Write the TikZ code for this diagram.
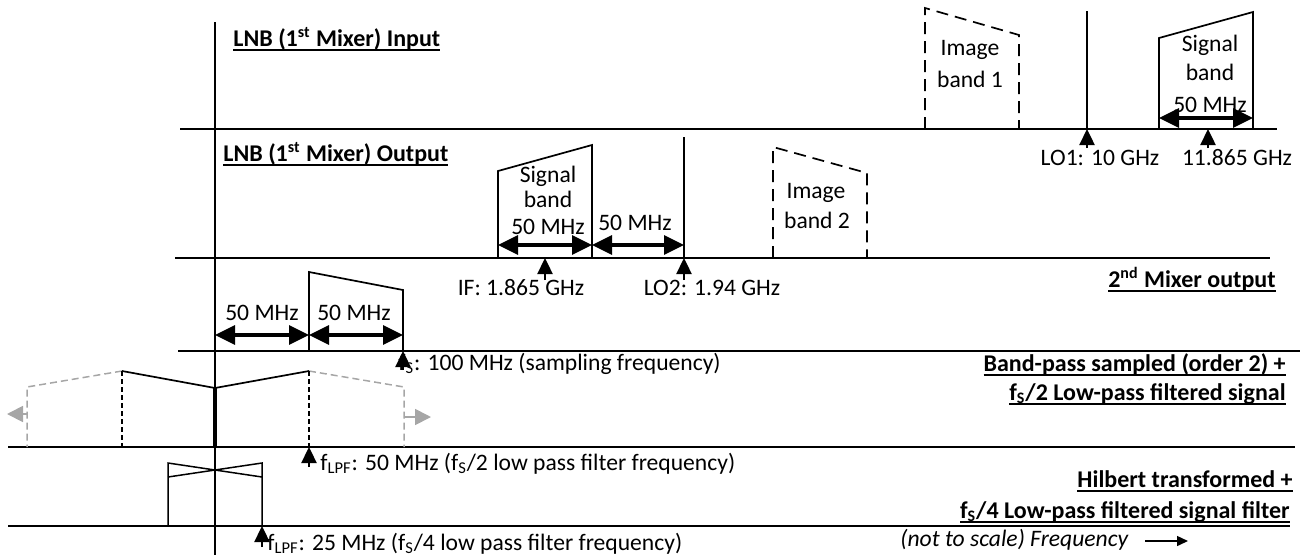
\documentclass[tikz,border=0pt]{standalone}
\usepackage{fontspec}
\setmainfont{Carlito}
\usetikzlibrary{arrows.meta}
\definecolor{gry}{RGB}{166,166,166}
\newcommand{\ulx}[1]{\setbox0\hbox{#1}\leavevmode\rlap{\rule[-2.6pt]{\wd0}{1.2pt}}\box0}
\tikzset{
 axisline/.style={line width=1pt},
 band/.style={line width=0.85pt, line join=miter},
 imgband/.style={line width=0.85pt, dash pattern=on 6pt off 3.5pt},
 loline/.style={line width=0.75pt},
 dbl/.style={line width=1.6pt, {Triangle[length=10pt,width=9.5pt]}-{Triangle[length=10pt,width=9.5pt]}},
 uparr/.style={line width=1.2pt, -{Triangle[length=8pt,width=7.5pt]}},
 txt/.style={inner sep=0pt, font=\fontsize{11.8}{14}\selectfont},
 ttl/.style={inner sep=0pt, font=\fontsize{12}{14}\selectfont\bfseries},
 gdash/.style={gry, line width=0.75pt, dash pattern=on 3.5pt off 2pt},
 kdash/.style={line width=0.7pt, dash pattern=on 2.5pt off 1.5pt},
 garr/.style={gry, line width=0.9pt, -{Triangle[length=8pt,width=8pt]}},
 farr/.style={line width=0.7pt, -{Triangle[length=5.5pt,width=5pt]}},
}
\begin{document}
\begin{tikzpicture}[x=0.5pt,y=-0.5pt]
\useasboundingbox (0,0) rectangle (1306,558);
% axis and baselines
\draw[axisline] (215,22) -- (215,555);
\draw[axisline] (180,129) -- (1277,129);
\draw[axisline] (175,258) -- (1270,258);
\draw[axisline] (178,351) -- (1300,351);
\draw[axisline] (8,447) -- (1295,447);
\draw[axisline] (8,526) -- (1290,526);

% ---- Section 1: LNB input
\node[ttl, anchor=base west] (t1) at (233,46) {\ulx{LNB (1\textsuperscript{st} Mixer) Input}};
\draw[imgband] (925,129) -- (925,8) -- (1019,35) -- (1019,129);
\draw[loline] (1087,11) -- (1087,129);
\draw[band] (1159,129) -- (1159,38) -- (1253,12) -- (1253,129);
\coordinate (sb1l) at (1159,118);
\coordinate (sb1r) at (1253,118);
\draw[dbl] (sb1l) -- (sb1r);
\node[txt, anchor=base] (ib1a) at (970,55) {Image};
\node[txt, anchor=base] (ib1b) at (970,87) {band 1};
\node[txt, anchor=base] (sg1a) at (1210,51) {Signal};
\node[txt, anchor=base] (sg1b) at (1210,80) {band};
\node[txt, anchor=base] (sg1c) at (1210,112) {50 MHz};
\node[txt, anchor=base] (lo1) at (1100,165) {LO1: 10 GHz};
\node[txt, anchor=base] (rf) at (1237,165) {11.865 GHz};
\coordinate (lo1t) at (1087,129);
\coordinate (lo1s) at (1087,148);
\draw[uparr] (lo1s) -- (lo1t);
\coordinate (rft) at (1208,129);
\coordinate (rfs) at (1208,148);
\draw[uparr] (rfs) -- (rft);

% ---- Section 2: LNB output
\node[ttl, anchor=base west] (t2) at (223,161) {\ulx{LNB (1\textsuperscript{st} Mixer) Output}};
\draw[band] (498,258) -- (498,171) -- (592,145) -- (592,258);
\draw[loline] (684,137) -- (684,258);
\draw[imgband] (773,258) -- (773,147) -- (867,173) -- (867,258);
\coordinate (sb2l) at (498,245);
\coordinate (sb2m) at (592,245);
\coordinate (sb2r) at (684,245);
\draw[dbl] (sb2l) -- (sb2m);
\draw[dbl] (sb2m) -- (sb2r);
\node[txt, anchor=base] (sg2a) at (548,182) {Signal};
\node[txt, anchor=base] (sg2b) at (548,207) {band};
\node[txt, anchor=base] (sg2c) at (548,234) {50 MHz};
\node[txt, anchor=base] (gap2) at (635,230) {50 MHz};
\node[txt, anchor=base] (ib2a) at (816,198) {Image};
\node[txt, anchor=base] (ib2b) at (817,228) {band 2};
\node[txt, anchor=base] (iflbl) at (521,295) {IF: 1.865 GHz};
\node[txt, anchor=base] (lo2lbl) at (712,295) {LO2: 1.94 GHz};
\coordinate (ift) at (545,258);
\coordinate (ifs) at (545,280);
\draw[uparr] (ifs) -- (ift);
\coordinate (lo2t) at (684,258);
\coordinate (lo2s) at (684,280);
\draw[uparr] (lo2s) -- (lo2t);

% ---- Section 3: 2nd mixer output
\node[ttl, anchor=base east] (t3) at (1276,287) {\ulx{2\textsuperscript{nd} Mixer output}};
\draw[band] (309,351) -- (309,272) -- (403,290) -- (403,351);
\coordinate (d3a) at (215,335);
\coordinate (d3b) at (309,335);
\coordinate (d3c) at (403,335);
\draw[dbl] (d3a) -- (d3b);
\draw[dbl] (d3b) -- (d3c);
\node[txt, anchor=base] (m3a) at (262,320) {50 MHz};
\node[txt, anchor=base] (m3b) at (354,320) {50 MHz};
\node[txt, anchor=base west] (fslbl) at (398,370) {f\textsubscript{S}: 100 MHz (sampling frequency)};
\coordinate (fst) at (403,351);
\coordinate (fss) at (403,370);
\draw[uparr] (fss) -- (fst);

% ---- Section 4: band-pass sampled
\node[ttl, anchor=base east] (t4a) at (1286,371) {\ulx{Band-pass sampled (order 2) +}};
\node[ttl, anchor=base east] (t4b) at (1286,400) {\ulx{f\textsubscript{S}/2 Low-pass filtered signal}};
\draw[gdash] (122,371) -- (27,387) -- (27,447);
\draw[gdash] (309,371) -- (404,387) -- (404,447);
\coordinate (gl0) at (27,414);
\coordinate (gl1) at (7,414);
\draw[garr] (gl0) -- (gl1);
\coordinate (gr0) at (404,417);
\coordinate (gr1) at (431,417);
\draw[garr] (gr0) -- (gr1);
\draw[kdash] (122,371) -- (122,447);
\draw[kdash] (309,371) -- (309,447);
\draw[band] (122,371) -- (215,388) -- (309,371);
\draw[line width=1.8pt] (215,388) -- (215,447);
\node[txt, anchor=base west] (lpf50) at (320,470) {f\textsubscript{LPF}: 50 MHz (f\textsubscript{S}/2 low pass filter frequency)};
\coordinate (l50t) at (309,447);
\coordinate (l50s) at (309,467);
\draw[uparr] (l50s) -- (l50t);

% ---- Section 5: Hilbert
\node[ttl, anchor=base east] (t5a) at (1293,487) {\ulx{Hilbert transformed +}};
\node[ttl, anchor=base east] (t5b) at (1290,518) {\ulx{f\textsubscript{S}/4 Low-pass filtered signal filter}};
\draw[loline] (168,526) -- (168,463) -- (262,477);
\draw[loline] (168,477) -- (262,463) -- (262,526);
\node[txt, anchor=base west] (lpf25) at (267,550) {f\textsubscript{LPF}: 25 MHz (f\textsubscript{S}/4 low pass filter frequency)};
\coordinate (l25t) at (262,526);
\coordinate (l25s) at (262,547);
\draw[uparr] (l25s) -- (l25t);

% ---- footer
\node[txt, anchor=base west] (nts) at (900,546) {\itshape (not to scale) Frequency};
\coordinate (fa0) at (1145,541);
\coordinate (fa1) at (1188,541);
\draw[farr] (fa0) -- (fa1);
\end{tikzpicture}
\end{document}
